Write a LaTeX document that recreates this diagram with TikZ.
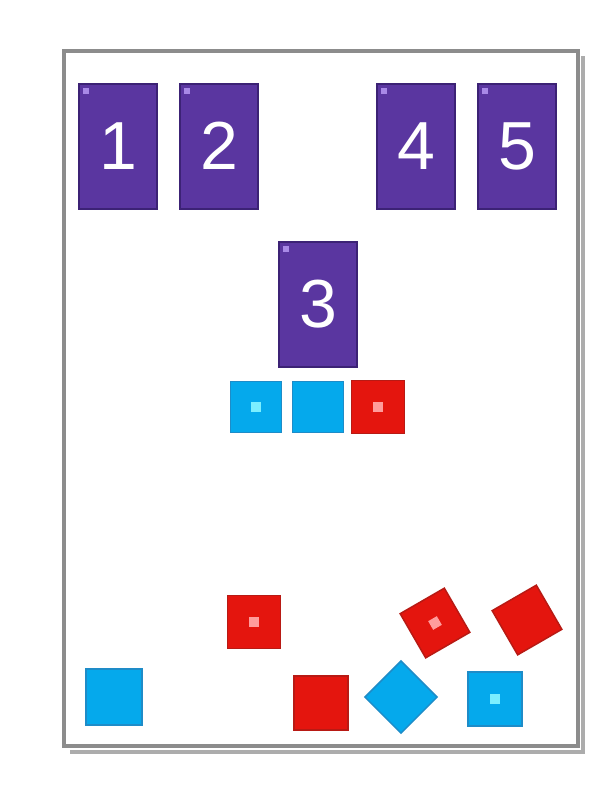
\documentclass[tikz,border=0pt]{standalone}
\usepackage{fontspec}
\newfontfamily\cardfont{Liberation Sans}
\usetikzlibrary{positioning}
\definecolor{cardPurple}{HTML}{5A36A0}
\definecolor{cardEdge}{HTML}{3C2275}
\definecolor{cardMark}{HTML}{A889E6}
\definecolor{sqBlue}{HTML}{05A9EC}
\definecolor{sqBlueEdge}{HTML}{1E8CC8}
\definecolor{sqRed}{HTML}{E4150E}
\definecolor{sqRedEdge}{HTML}{B81A14}
\definecolor{dotBlue}{HTML}{7CEFFF}
\definecolor{dotRed}{HTML}{FF9C9C}
\tikzset{
	card/.style={draw=cardEdge, line width=2pt, fill=cardPurple, minimum width=78pt, minimum height=125pt, inner sep=0pt, text=white, font=\cardfont\fontsize{68}{68}\selectfont},
	cardmark/.style={fill=cardMark, minimum size=6pt, inner sep=0pt},
	bluesq/.style={draw=sqBlueEdge, line width=1.5pt, fill=sqBlue, minimum size=#1, inner sep=0pt},
	bluesq/.default=51pt,
	redsq/.style={draw=sqRedEdge, line width=1.5pt, fill=sqRed, minimum size=#1, inner sep=0pt},
	redsq/.default=51pt,
	bluedot/.style={fill=dotBlue, minimum size=10pt, inner sep=0pt},
	reddot/.style={fill=dotRed, minimum size=10pt, inner sep=0pt},
}
\begin{document}
\begin{tikzpicture}[x=1pt, y=-1pt]
	\useasboundingbox (0,0) rectangle (600,785);

	% Frame with shadow
	\draw[gray!65, line width=4pt] (70,752) -- (583,752) -- (583,56);
	\draw[gray!90, line width=4pt, fill=white] (64,51) rectangle (578,746);

	% Cards
	\node[card] (c1) at (118,146) {1};
	\node[card] (c2) at (219,146) {2};
	\node[card] (c3) at (318,304) {3};
	\node[card] (c4) at (416,146) {4};
	\node[card] (c5) at (517,146) {5};
	\foreach \c in {c1,c2,c3,c4,c5}
		\node[cardmark, below right=5pt and 5pt of \c.north west] (\c m) {};

	% Row under card 3
	\node[bluesq] (b1) at (256,407) {};
	\node[bluedot] (b1d) at (b1) {};
	\node[bluesq] (b2) at (318,407) {};
	\node[redsq=53pt] (r1) at (378,407) {};
	\node[reddot] (r1d) at (r1) {};

	% Loose squares
	\node[redsq=53pt] (r2) at (254,622) {};
	\node[reddot] (r2d) at (r2) {};
	\node[redsq, rotate=30] (r3) at (435,623) {};
	\node[reddot, rotate=30] (r3d) at (r3) {};
	\node[redsq, rotate=30] (r4) at (527,620) {};
	\node[bluesq=56pt] (b3) at (114,697) {};
	\node[redsq=54pt] (r5) at (321,703) {};
	\node[bluesq=51pt, rotate=45] (b4) at (401,697) {};
	\node[bluesq=54pt] (b5) at (495,699) {};
	\node[bluedot] (b5d) at (b5) {};
\end{tikzpicture}
\end{document}
